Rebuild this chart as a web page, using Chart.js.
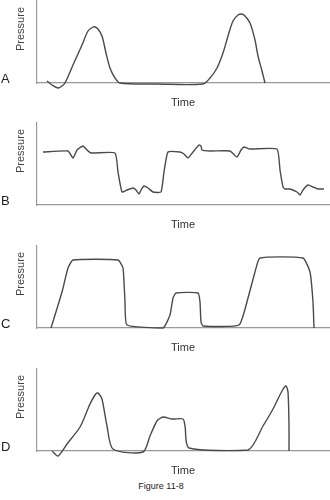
<!DOCTYPE html>
<html>
<head>
<meta charset="utf-8">
<script src="https://cdn.jsdelivr.net/npm/chart.js@4.4.1/dist/chart.umd.min.js"></script>
<style>
  body { margin: 0; background: #fff; }
  .panel { position: absolute; left: 0; }
  #caption {
    position: absolute; left: 0; top: 481px; width: 322px; text-align: center;
    font: 9px 'Liberation Sans Narrow', 'Liberation Sans', Arial, sans-serif;
    line-height: 10px; color: #222;
  }
</style>
</head>
<body>
<canvas id="chartA" class="panel" width="330" height="113" style="top:0px"></canvas>
<canvas id="chartB" class="panel" width="330" height="113" style="top:122px"></canvas>
<canvas id="chartC" class="panel" width="330" height="113" style="top:245px"></canvas>
<canvas id="chartD" class="panel" width="330" height="113" style="top:368px"></canvas>
<div id="caption">Figure 11-8</div>
<script>
// trace A
const timeA = [10, 15, 21, 25, 28, 36, 45, 51, 56, 58, 61, 65, 69, 73, 78, 83, 120, 166, 173, 180, 186, 191, 196, 201, 205, 208, 213, 218, 221, 225, 228];
const pressureA = [2, -2, -5, -3, 0, 18, 38, 52, 56, 56, 54, 47, 30, 15, 5, 0, -1, -1, 5, 15, 30, 47, 62, 68, 69, 67, 60, 43, 27, 12, 0];

// trace B
const timeB = [6, 31, 36, 40, 46, 50, 54, 78, 81, 85, 90, 96, 99, 102, 104, 107, 111, 116, 124, 127, 131, 143, 147, 151, 156, 162, 164, 165, 173, 193, 200, 204, 207, 213, 240, 243, 246, 248, 253, 260, 263, 266, 271, 276, 281, 287];
const pressureB = [53, 54, 47, 55, 59, 55, 52, 52, 33, 13, 15, 17, 15, 11, 15, 19, 17, 13, 13, 33, 53, 53, 51, 47, 53, 60, 59, 55, 54, 54, 48, 55, 58, 56, 56, 35, 18, 16, 16, 13, 10, 15, 20, 18, 16, 16];

// trace C
const timeC = [14, 25, 31, 36, 81, 86, 88, 90, 126, 133, 136, 139, 161, 163, 164, 166, 202, 211, 218, 223, 266, 273, 276, 277];
const pressureC = [0, 36, 60, 68, 68, 60, 26, 3, 0, 13, 30, 35, 35, 26, 6, 2, 3, 30, 56, 70, 70, 56, 26, 0];

// trace D
const timeD = [15, 21, 30, 43, 53, 58, 60, 62, 65, 70, 76, 106, 113, 120, 126, 135, 146, 148, 152, 211, 226, 236, 245, 249, 251, 252, 252];
const pressureD = [0, -5, 7, 24, 47, 56, 58, 57, 52, 25, 2, -1, 15, 30, 34, 32, 32, 25, 3, 1, 25, 42, 60, 65, 59, 25, 0];

const FONT = "'Liberation Sans', Arial, sans-serif";

// panel letter at the left and the rotated "Pressure" label
const panelLabels = {
    id: 'panelLabels',
    afterDraw(chart, args, opts) {
        const {ctx, chartArea} = chart;
        ctx.save();
        ctx.fillStyle = '#222';
        ctx.font = '13px ' + FONT;
        ctx.textAlign = 'left';
        ctx.textBaseline = 'alphabetic';
        ctx.fillText(opts.letter, 1, chartArea.bottom);
        ctx.fillStyle = '#444';
        ctx.font = '11px ' + FONT;
        ctx.translate(21, chartArea.top + 29);
        ctx.rotate(-Math.PI / 2);
        ctx.textAlign = 'center';
        ctx.textBaseline = 'middle';
        ctx.fillText('Pressure', 0, 0);
        ctx.restore();
    }
};

function makePanel(id, letter, times, pressures, tension) {
    const points = times.map((t, i) => ({x: t, y: pressures[i]}));
    return new Chart(document.getElementById(id), {
        type: 'scatter',
        data: {
            datasets: [{
                data: points,
                showLine: true,
                borderColor: '#4a4a4a',
                borderWidth: 1.4,
                pointRadius: 0,
                tension: tension,
                clip: false,
                fill: false
            }]
        },
        options: {
            responsive: false,
            animation: false,
            devicePixelRatio: 1,
            layout: {padding: {top: 0, right: 1, bottom: 0, left: 0}},
            plugins: {
                legend: {display: false},
                tooltip: {enabled: false},
                panelLabels: {letter: letter}
            },
            scales: {
                x: {
                    type: 'linear',
                    min: 0,
                    max: 292,
                    grid: {display: false, drawTicks: false},
                    ticks: {display: false},
                    border: {display: true, color: '#999', width: 1.2},
                    title: {
                        display: true,
                        text: 'Time',
                        color: '#333',
                        font: {family: FONT, size: 11, lineHeight: 1.2},
                        padding: {top: 12.9, bottom: 3.9}
                    }
                },
                y: {
                    type: 'linear',
                    min: 0,
                    max: 83,
                    grid: {display: false, drawTicks: false},
                    ticks: {display: false},
                    border: {display: true, color: '#999', width: 1.2},
                    afterFit(scale) { scale.width = 37; }
                }
            }
        },
        plugins: [panelLabels]
    });
}

makePanel('chartA', 'A', timeA, pressureA, 0.3);
makePanel('chartB', 'B', timeB, pressureB, 0.15);
makePanel('chartC', 'C', timeC, pressureC, 0.15);
makePanel('chartD', 'D', timeD, pressureD, 0.25);
</script>
</body>
</html>
